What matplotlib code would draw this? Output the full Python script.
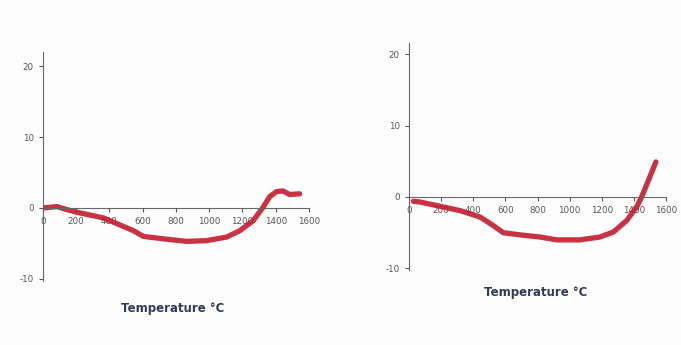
import matplotlib.pyplot as plt

# left panel
temp_a = [0, 44, 84, 140, 204, 284, 364, 444, 544, 604, 744, 864, 984, 1104, 1184, 1264, 1324, 1364, 1404, 1444, 1484, 1544]
val_a = [0.0, 0.1, 0.2, -0.2, -0.6, -1.0, -1.4, -2.2, -3.2, -4.0, -4.4, -4.7, -4.6, -4.1, -3.2, -1.8, 0.1, 1.6, 2.3, 2.4, 1.9, 2.0]

# right panel
temp_b = [27, 68, 193, 317, 442, 525, 587, 691, 815, 919, 1064, 1189, 1272, 1355, 1417, 1448, 1490, 1537]
val_b = [-0.6, -0.7, -1.3, -1.9, -2.8, -4.0, -5.0, -5.3, -5.6, -6.0, -6.0, -5.6, -4.9, -3.3, -1.4, 0.0, 2.3, 4.9]

xticks = [0, 200, 400, 600, 800, 1000, 1200, 1400, 1600]
yticks = [-10, 0, 10, 20]
line_color = "#c41c2e"
label_color = "#2e3b57"

plt.rcParams["axes.unicode_minus"] = False

fig = plt.figure(figsize=(6.81, 3.45), dpi=100)
fig.patch.set_facecolor("#fdfdfd")

ax1 = fig.add_axes([0.0631, 0.1852, 0.3906, 0.6646])
ax2 = fig.add_axes([0.6006, 0.2177, 0.3774, 0.6568])

panels = [(ax1, temp_a, val_a, (-10.3, 22)), (ax2, temp_b, val_b, (-10.2, 21.5))]
for ax, t, v, ylim in panels:
    ax.set_facecolor("none")
    ax.plot(t, v, color=line_color, lw=3.8, solid_capstyle="round", alpha=0.9)
    ax.set_xlim(0, 1600)
    ax.set_ylim(*ylim)
    ax.set_xticks(xticks)
    ax.set_yticks(yticks)
    for s in ["top", "right"]:
        ax.spines[s].set_visible(False)
    ax.spines["bottom"].set_position(("data", 0))
    ax.spines["bottom"].set_color("#666666")
    ax.spines["left"].set_color("#666666")
    ax.tick_params(labelsize=6.3, colors="#555555", length=3, width=0.8)

fig.text(0.253, 0.107, "Temperature °C", ha="center", va="center",
         fontsize=8.5, fontweight="bold", color=label_color)
fig.text(0.786, 0.153, "Temperature °C", ha="center", va="center",
         fontsize=8.5, fontweight="bold", color=label_color)

fig.savefig("out.png", dpi=100, facecolor=fig.get_facecolor())
